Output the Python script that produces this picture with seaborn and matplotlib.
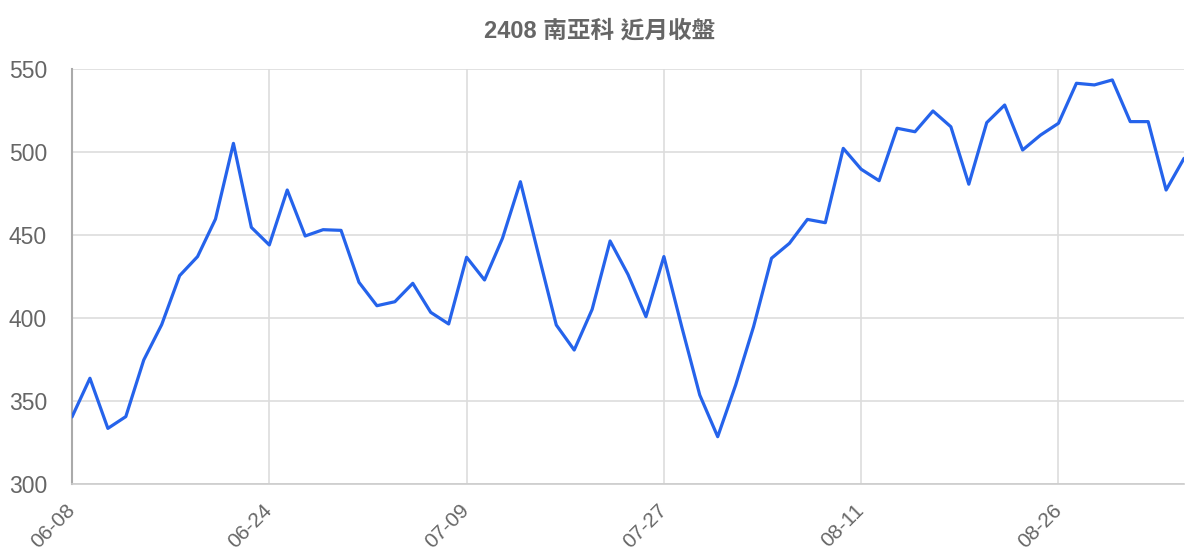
import matplotlib
matplotlib.use("Agg")
import matplotlib.pyplot as plt
import seaborn as sns
import pandas as pd

title = "2408 南亞科 近月收盤"
close_prices = [
    340.4, 363.7, 333.5, 340.6, 374.7, 396.0, 425.5, 437.0, 459.6, 505.2,
    454.6, 444.0, 477.1, 449.4, 453.2, 452.8, 421.5, 407.4, 409.8, 420.9,
    403.4, 396.4, 436.6, 422.9, 448.0, 482.1, 438.6, 395.8, 380.7, 405.2,
    446.4, 426.2, 400.8, 437.0, 394.5, 353.6, 328.5, 359.6, 394.8, 436.0,
    445.0, 459.4, 457.4, 502.2, 489.6, 482.7, 514.3, 512.2, 524.7, 515.2,
    480.6, 517.7, 528.3, 501.2, 510.2, 517.3, 541.4, 540.4, 543.4, 518.3,
    518.3, 477.1, 496.2,
]
tick_positions = [0, 11, 22, 33, 44, 55]
tick_labels = ["06-08", "06-24", "07-09", "07-27", "08-11", "08-26"]
y_ticks = [300, 350, 400, 450, 500, 550]

df = pd.DataFrame({"idx": range(len(close_prices)), "close": close_prices})

sns.set_style("white")
plt.rcParams["font.family"] = ["Liberation Sans", "Noto Sans CJK TC", "DejaVu Sans"]

fig = plt.figure(figsize=(12, 5.6), dpi=100)
ax = fig.add_axes([0.06, 0.1357, 0.9267, 0.7411])

sns.lineplot(data=df, x="idx", y="close", ax=ax, color="#2563eb",
             linewidth=2.3, zorder=5)

ax.set_xlim(0, len(close_prices) - 1)
ax.set_ylim(300, 550)
ax.set_yticks(y_ticks)
ax.set_xticks(tick_positions)
ax.set_xticklabels(tick_labels, rotation=45, ha="right", va="center",
                   rotation_mode="anchor")
ax.set_xlabel("")
ax.set_ylabel("")

ax.grid(True, color="#dddddd", linewidth=1.2, zorder=0)
ax.tick_params(axis="both", length=14, width=1.2, color="#dddddd",
               labelcolor="#666666", pad=4)
ax.tick_params(axis="y", labelsize=16.5)
ax.tick_params(axis="x", labelsize=15, pad=3)

for s in ["top", "right"]:
    ax.spines[s].set_visible(False)
ax.spines["left"].set_color("#aaaaaa")
ax.spines["left"].set_linewidth(1.5)
ax.spines["bottom"].set_color("#cccccc")
ax.spines["bottom"].set_linewidth(1.2)

fig.suptitle(title, x=0.5, y=0.965, fontsize=17, fontweight="bold",
             color="#666666", family=["Liberation Sans", "Noto Sans CJK TC"])

fig.savefig("out.png", dpi=100, facecolor="white")
